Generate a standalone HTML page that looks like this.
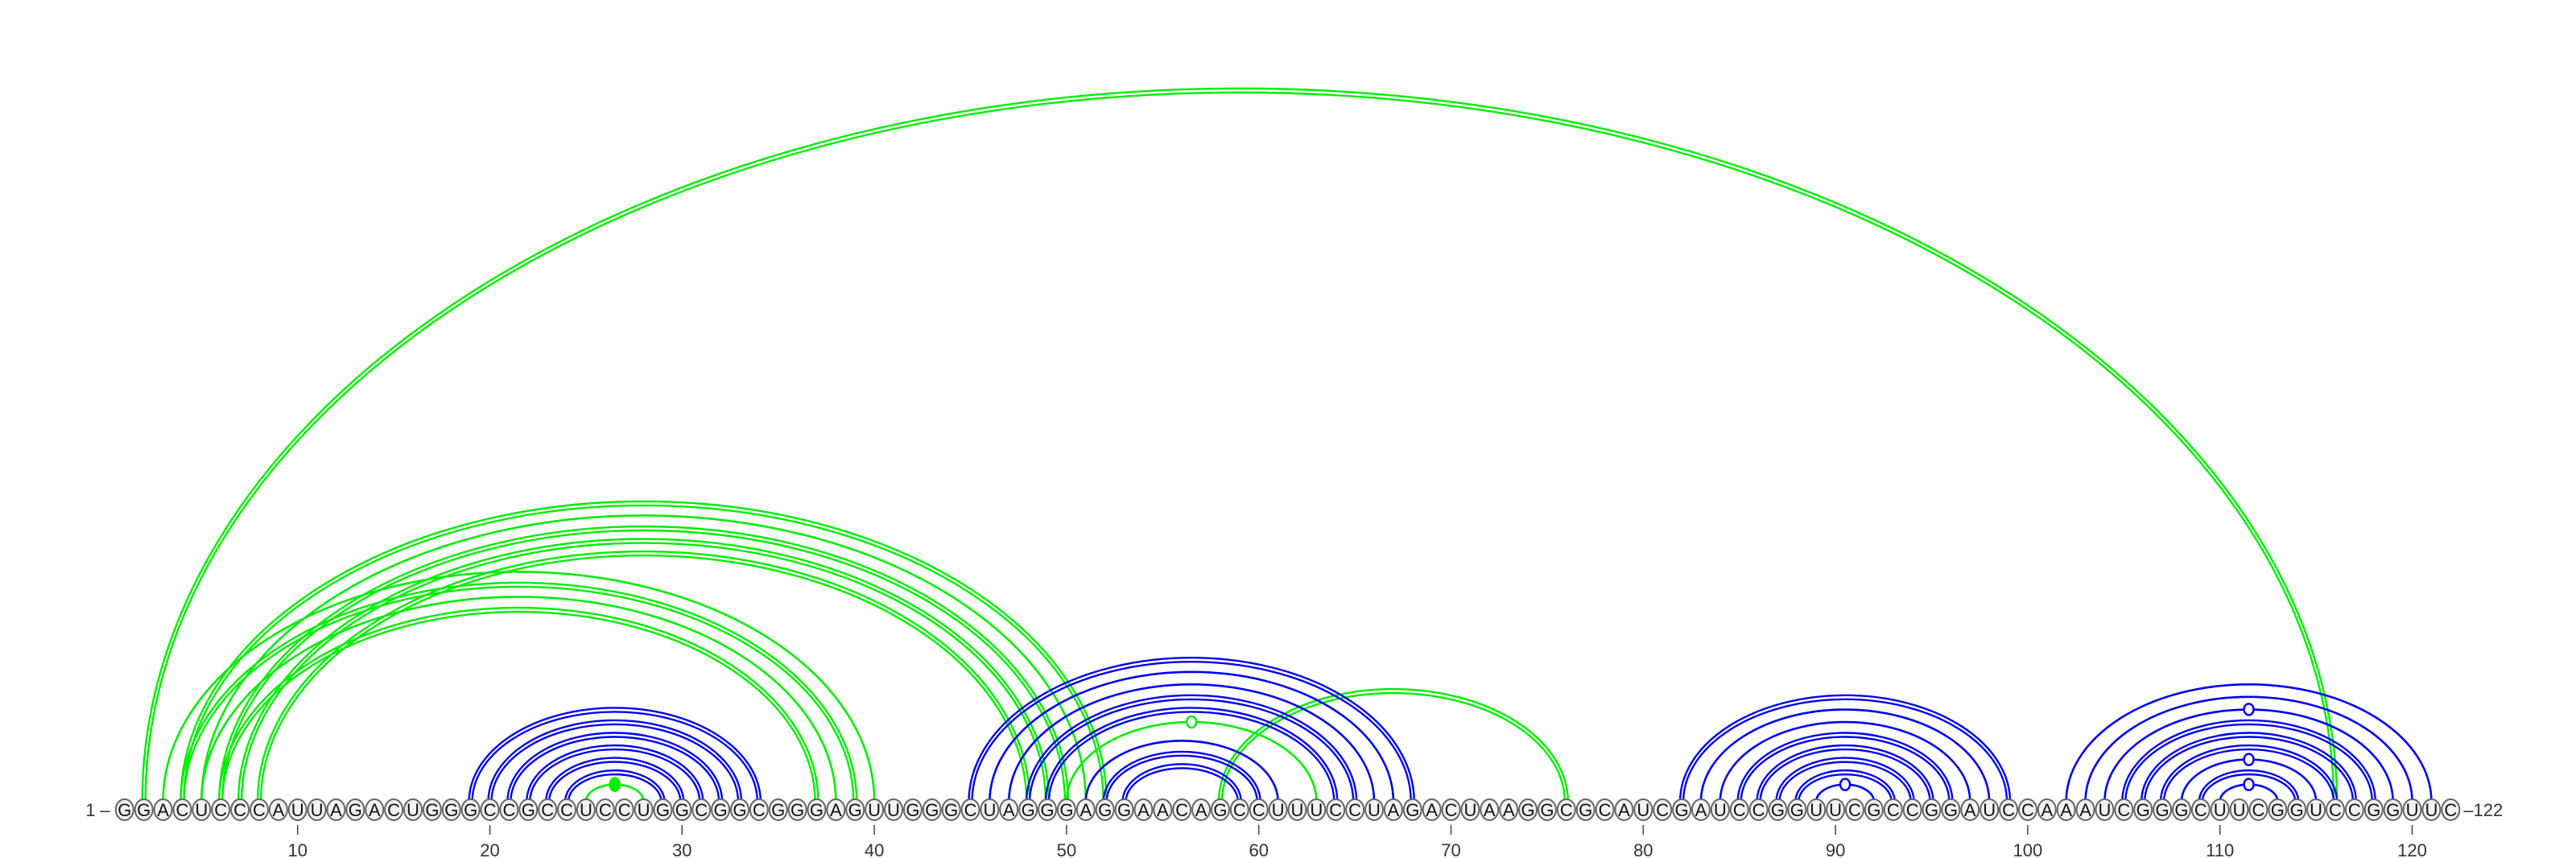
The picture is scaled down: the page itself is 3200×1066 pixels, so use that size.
<!DOCTYPE html>
<html><head><meta charset="utf-8"><style>
html,body{margin:0;padding:0;background:#fff;}
svg{display:block;font-family:"Liberation Sans",sans-serif;}
</style></head><body>
<svg id="chart" width="3200" height="1066" viewBox="0 0 3200 1066" xmlns="http://www.w3.org/2000/svg">
<g id="arcs"></g>
<g id="seq"></g>
<g id="axis"></g>
</svg>
<script>
const sequence = "GGACUCCCAUUAGACUGGGCCGCCUCCUGGCGGCGGGAGUUGGGCUAGGGAGGAACAGCCUUUCCUAGACUAAGGCGCAUCGAUCCGGUUCGCCGGAUCCAAAUCGGGCUUCGGUCCGGUUC";
const tickPositions = [10,20,30,40,50,60,70,80,90,100,110,120];
const blueI = [19,20,21,22,23,24, 45,46,47,48,49,51,52,53, 82,83,84,85,86,87,88,89, 102,103,104,105,106,107,108,109,110];
const blueJ = [34,33,32,31,30,29, 68,67,66,65,64,61,60,59, 99,98,97,96,95,94,93,92, 121,120,119,118,117,116,115,114,113];
const blueDouble = [1,1,1,1,1,1, 1,0,0,1,1,0,1,1, 1,0,0,1,1,1,1,0, 0,0,0,1,1,1,0,1,0];
const blueMark = [0,0,0,0,0,0, 0,0,0,0,0,0,0,0, 0,0,0,0,0,0,0,1, 0,0,1,0,0,0,1,0,1];
const greenI = [2,3,4,5,6,4,5,6,7,8,58,25,50];
const greenJ = [116,40,39,38,37,52,51,50,49,48,76,28,63];
const greenDouble = [1,0,1,0,1,1,0,1,1,1,1,0,0];
const greenMark = [0,0,0,0,0,0,0,0,0,0,0,2,1];

const NS="http://www.w3.org/2000/svg";
const BASE=1006;
function xPos(i){return 154.8+(i-1)*23.88;}
function arcH(hw){return 0.651*hw+8;}
const arcsG=document.getElementById('arcs');
function arcPath(i,j,dw,dh,color,w){
  const x1=xPos(i), x2=xPos(j), cx=(x1+x2)/2, hw=(x2-x1)/2+dw, h=arcH((x2-x1)/2)+dh;
  const p=document.createElementNS(NS,'path');
  p.setAttribute('d',`M ${cx-hw} ${BASE-10} A ${hw} ${h-10} 0 0 1 ${cx+hw} ${BASE-10}`);
  p.setAttribute('fill','none');p.setAttribute('stroke',color);p.setAttribute('stroke-width',w);
  
  
  arcsG.appendChild(p);
}
function mark(i,j,color,filled){
  const x1=xPos(i), x2=xPos(j), h=arcH((x2-x1)/2);
  const c=document.createElementNS(NS,'ellipse');
  c.setAttribute('cx',(x1+x2)/2);c.setAttribute('cy',BASE-h);
  c.setAttribute('rx',6);c.setAttribute('ry',filled?8:7);
  c.setAttribute('fill',filled?color:'#fff');c.setAttribute('stroke',color);c.setAttribute('stroke-width',2.5);
  
  
  arcsG.appendChild(c);
}
function drawSet(I,J,D,M,color){
  for(let k=0;k<I.length;k++){
    if(D[k]){arcPath(I[k],J[k],2,2,color,2.4);arcPath(I[k],J[k],-2,-3,color,2.4);}
    else arcPath(I[k],J[k],0,0,color,2.6);
  }
  for(let k=0;k<I.length;k++){ if(M[k]) mark(I[k],J[k],color,M[k]===2); }
}
drawSet(greenI,greenJ,greenDouble,greenMark,'#00ee00');
drawSet(blueI,blueJ,blueDouble,blueMark,'#0000ee');

const seqG=document.getElementById('seq');
for(let k=0;k<sequence.length;k++){
  const x=xPos(k+1);
  const e=document.createElementNS(NS,'ellipse');
  e.setAttribute('cx',x);e.setAttribute('cy',BASE);e.setAttribute('rx',11);e.setAttribute('ry',13);
  e.setAttribute('fill','#f2f2f2');e.setAttribute('stroke','#666');e.setAttribute('stroke-width',2);
  
  
  seqG.appendChild(e);
  const t=document.createElementNS(NS,'text');
  t.setAttribute('x',x);t.setAttribute('y',BASE+8);t.setAttribute('text-anchor','middle');
  t.setAttribute('font-size',22);t.setAttribute('fill','#111');
  t.textContent=sequence[k];
  
  
  seqG.appendChild(t);
}
const axisG=document.getElementById('axis');
function txt(x,y,s,anchor,name){
  const t=document.createElementNS(NS,'text');
  t.setAttribute('x',x);t.setAttribute('y',y);t.setAttribute('text-anchor',anchor);
  t.setAttribute('font-size',22);t.setAttribute('fill','#333');t.textContent=s;
  
  
  axisG.appendChild(t);
}
txt(xPos(1)-18,BASE+8,'1 –','end','sequence-start-label');
txt(xPos(sequence.length)+16,BASE+8,'–'+sequence.length,'start','sequence-end-label');
tickPositions.forEach(p=>{
  const l=document.createElementNS(NS,'line');
  l.setAttribute('x1',xPos(p));l.setAttribute('x2',xPos(p));l.setAttribute('y1',1025);l.setAttribute('y2',1037);
  l.setAttribute('stroke','#444');l.setAttribute('stroke-width',1.5);
  
  
  axisG.appendChild(l);
  txt(xPos(p),1064,String(p),'middle','tick-label');
});
</script>
</body></html>
